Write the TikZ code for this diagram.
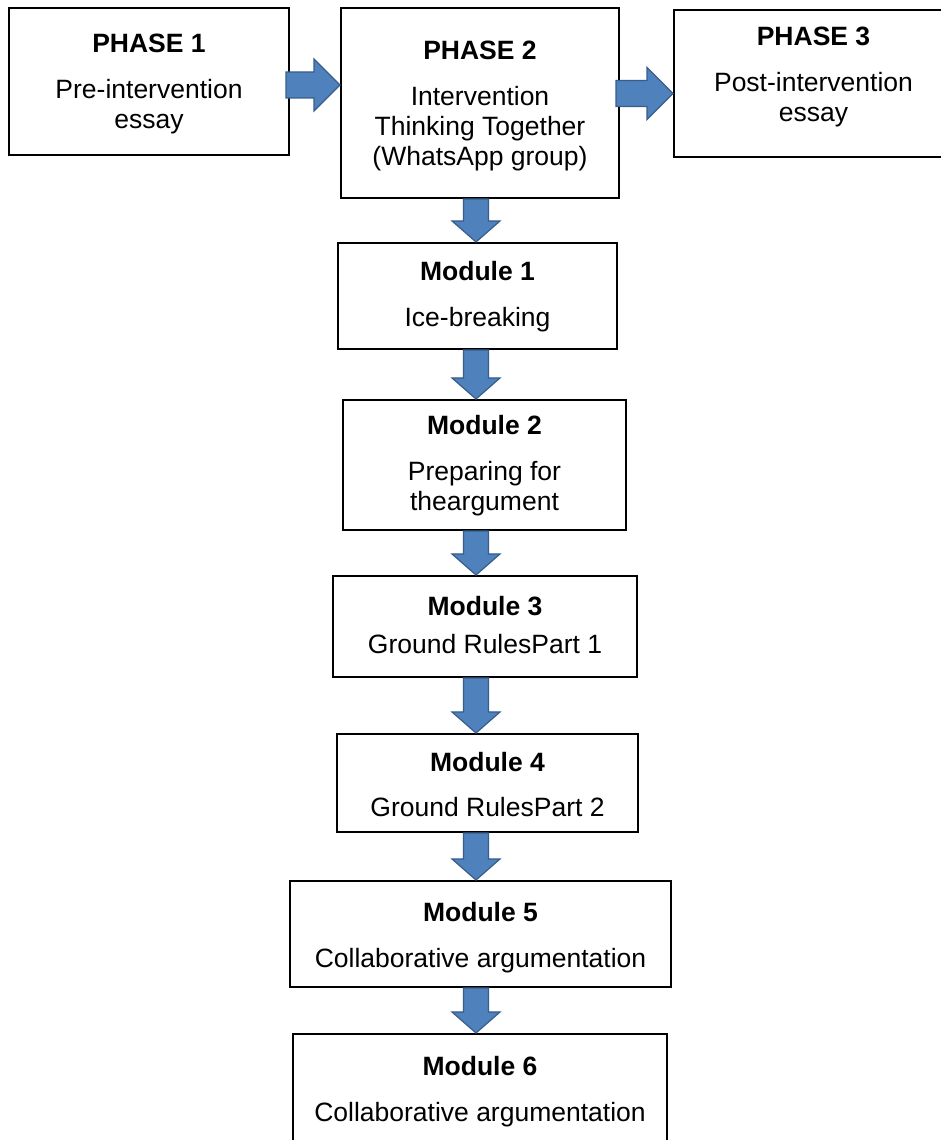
\documentclass[tikz,border=0pt]{standalone}
\usepackage{fontspec}
\setmainfont{Liberation Sans}
\usetikzlibrary{calc}
\definecolor{arrowfill}{RGB}{79,129,189}
\definecolor{arrowedge}{RGB}{56,93,138}

% centred lines of text, raised by #1 while the box keeps its own height and depth
\newsavebox\linesbox
\newcommand\raisedlines[2]{%
  \sbox\linesbox{\begin{tabular}{@{}c@{}}#2\end{tabular}}%
  \raisebox{#1}[\ht\linesbox][\dp\linesbox]{\usebox\linesbox}}

% block arrow pointing down, from the bottom of #1 to the top of #2, on the arrow column
\newcommand\downblockarrow[2]{%
  \draw[blockarrow] let \p1=(col |- #1.south), \p2=(col |- #2.north) in
    (\x1-12.5pt,\y1) -- (\x1-12.5pt,\y2+21pt) -- (\x1-24pt,\y2+21pt) -- (\x2,\y2)
    -- (\x1+24pt,\y2+21pt) -- (\x1+12.5pt,\y2+21pt) -- (\x1+12.5pt,\y1) -- cycle;}

% block arrow pointing right, from the side of #1 to the side of #2, at height #3
\newcommand\rightblockarrow[3]{%
  \draw[blockarrow] let \p1=(#1.east), \p2=(#2.west) in
    (\x1-4pt,#3pt-13pt) -- (\x2-26pt,#3pt-13pt) -- (\x2-26pt,#3pt-26pt) -- (\x2,#3pt)
    -- (\x2-26pt,#3pt+26pt) -- (\x2-26pt,#3pt+13pt) -- (\x1-4pt,#3pt+13pt) -- cycle;}

\begin{document}
\begin{tikzpicture}[x=1pt,y=1pt,
  box/.style={draw=black, line width=2pt, fill=white, inner sep=0pt, align=center,
              font=\fontsize{26.5}{30}\selectfont},
  blockarrow/.style={fill=arrowfill, draw=arrowedge, line width=1.2pt, line join=miter}]
\useasboundingbox (0,0) rectangle (941,1140);
\clip (0,0) rectangle (941,1140);

\coordinate (col) at (476,0);

% phases
\node[box, minimum width=280pt, minimum height=147pt] (p1) at (149,1058.5)
  {\raisedlines{-3pt}{\textbf{PHASE 1}\\[16pt]Pre-intervention\\essay}};
\node[box, minimum width=278pt, minimum height=190pt] (p2) at (480,1037)
  {\raisedlines{-4pt}{\textbf{PHASE 2}\\[16pt]Intervention\\Thinking Together\\(WhatsApp group)}};
\node[box, minimum width=279pt, minimum height=147pt] (p3) at (813.5,1056.5)
  {\raisedlines{6pt}{\textbf{PHASE 3}\\[16pt]Post-intervention\\essay}};

% modules
\node[box, minimum width=279pt, minimum height=106pt] (m1) at (477.5,844)
  {\raisedlines{-2pt}{\textbf{Module 1}\\[16pt]Ice-breaking}};
\node[box, minimum width=283pt, minimum height=130pt] (m2) at (484.5,675)
  {\raisedlines{-2pt}{\textbf{Module 2}\\[16pt]Preparing for\\theargument}};
\node[box, minimum width=304pt, minimum height=101pt] (m3) at (485,513.5)
  {\raisedlines{-2pt}{\textbf{Module 3}\\[8pt]Ground RulesPart 1}};
\node[box, minimum width=301pt, minimum height=98pt] (m4) at (487.5,357)
  {\raisedlines{-5pt}{\textbf{Module 4}\\[15pt]Ground RulesPart 2}};
\node[box, minimum width=381pt, minimum height=106pt] (m5) at (480.5,206)
  {\raisedlines{-5pt}{\textbf{Module 5}\\[16pt]Collaborative argumentation}};
\node[box, minimum width=374pt, minimum height=107pt] (m6) at (480,52.5)
  {\raisedlines{-5pt}{\textbf{Module 6}\\[16pt]Collaborative argumentation}};

% connectors
\rightblockarrow{p1}{p2}{1055}
\rightblockarrow{p2}{p3}{1046.5}
\downblockarrow{p2}{m1}
\downblockarrow{m1}{m2}
\downblockarrow{m2}{m3}
\downblockarrow{m3}{m4}
\downblockarrow{m4}{m5}
\downblockarrow{m5}{m6}
\end{tikzpicture}
\end{document}
